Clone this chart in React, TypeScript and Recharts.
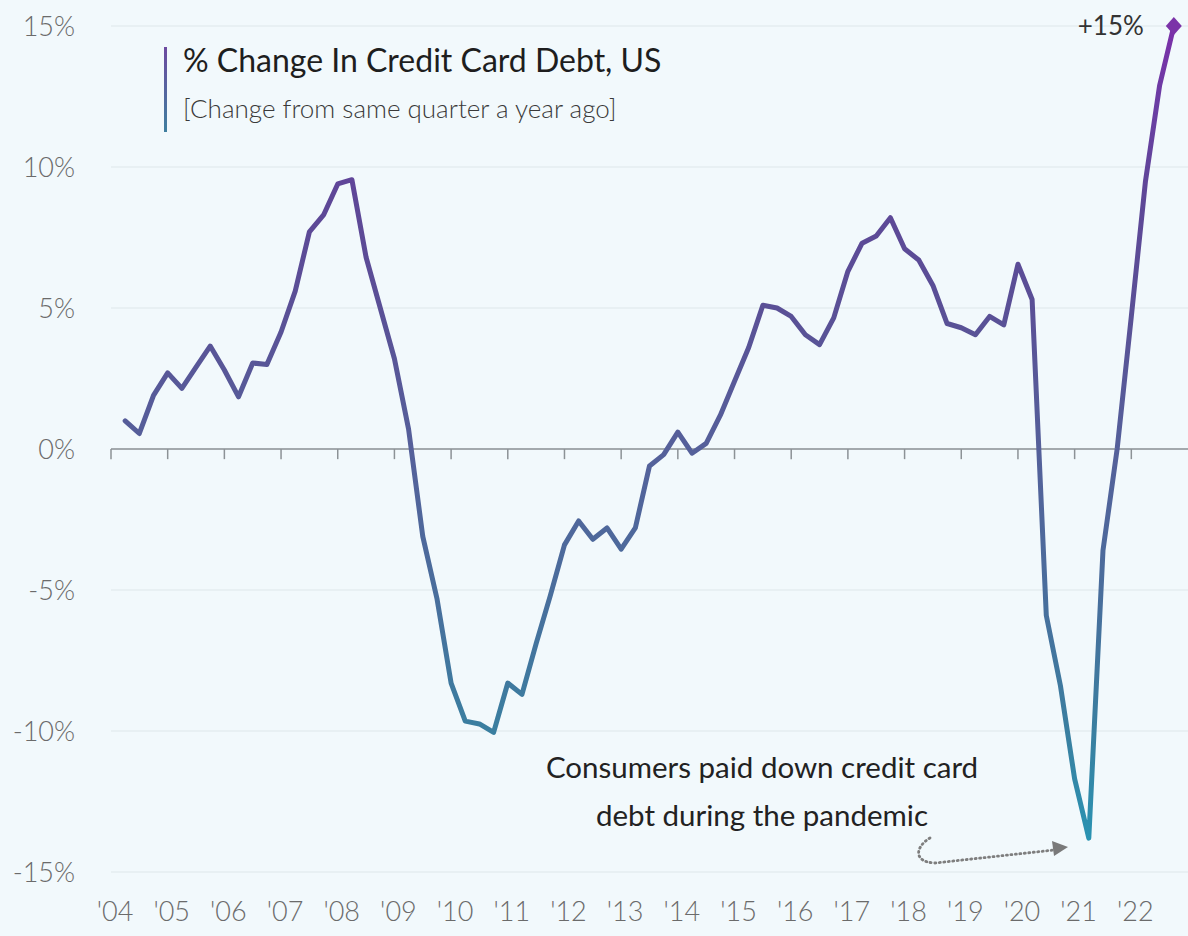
import React from "react";
import {
  CartesianGrid,
  Line,
  LineChart,
  ReferenceLine,
  XAxis,
  YAxis,
} from "recharts";

// quarterly year-over-year change, 2004 Q1 .. 2022 Q3
const startYear = 2004;
const debtChange = [
  1.0, 0.55, 1.9, 2.7,
  2.15, 2.9, 3.65, 2.8,
  1.85, 3.05, 3.0, 4.15,
  5.6, 7.7, 8.3, 9.4,
  9.55, 6.8, 5.0, 3.2,
  0.7, -3.1, -5.3, -8.3,
  -9.65, -9.75, -10.05, -8.3,
  -8.7, -6.9, -5.2, -3.4,
  -2.55, -3.2, -2.8, -3.55,
  -2.8, -0.6, -0.2, 0.6,
  -0.15, 0.2, 1.2, 2.4,
  3.6, 5.1, 5.0, 4.7,
  4.05, 3.7, 4.65, 6.3,
  7.3, 7.55, 8.2, 7.1,
  6.7, 5.8, 4.45, 4.3,
  4.05, 4.7, 4.4, 6.55,
  5.3, -5.9, -8.4, -11.7,
  -13.8, -3.6, 0.0, 4.7,
  9.5, 12.9, 15.0,
];
const yearTicks = [
  2004, 2005, 2006, 2007, 2008, 2009, 2010, 2011, 2012, 2013,
  2014, 2015, 2016, 2017, 2018, 2019, 2020, 2021, 2022,
];
const pctTicks = [-15, -10, -5, 0, 5, 10, 15];

const data = debtChange.map((v, i) => ({ t: startYear + (i + 1) / 4, v }));

const FONT = "Lato, 'Open Sans', sans-serif";
const BG = "#f2f9fc";

const EndMarker = (props: any) => {
  const { cx, cy, index } = props;
  if (index !== debtChange.length - 1) return <g key={index} />;
  return (
    <g key={index}>
      <path
        d={`M${cx},${cy - 9} L${cx + 8},${cy} L${cx},${cy + 9} L${cx - 8},${cy} Z`}
        fill="#7b33a8"
      />
      <text
        x={cx - 30}
        y={cy}
        dy="0.35em"
        textAnchor="end"
        fontSize={26}
        fontFamily={FONT}
        fill="#333"
      >
        +15%
      </text>
    </g>
  );
};

export default function App() {
  return (
    <div
      style={{
        position: "relative",
        width: 1188,
        height: 936,
        background: BG,
        fontFamily: FONT,
      }}
    >
      <style>{`body{margin:0}`}</style>
      <LineChart
        width={1188}
        height={936}
        data={data}
        margin={{ top: 26, right: 0, bottom: 34, left: 0 }}
      >
        <defs>
          <linearGradient id="lineGrad" x1="0" y1="0" x2="0" y2="1">
            <stop offset="0%" stopColor="#7b2fa9" />
            <stop offset="10%" stopColor="#6a3ea3" />
            <stop offset="21%" stopColor="#5e4797" />
            <stop offset="35%" stopColor="#5a5096" />
            <stop offset="52%" stopColor="#55609a" />
            <stop offset="69%" stopColor="#4a6d9c" />
            <stop offset="87%" stopColor="#3a7fa0" />
            <stop offset="100%" stopColor="#2a93b2" />
          </linearGradient>
        </defs>
        <CartesianGrid vertical={false} stroke="#e4edf1" strokeWidth={1.5} />
        <XAxis
          type="number"
          dataKey="t"
          domain={[2004, 2023]}
          ticks={yearTicks}
          tickFormatter={(y: number) => `'${String(y).slice(2)}`}
          axisLine={false}
          tickLine={false}
          tickSize={0}
          tickMargin={30}
          height={30}
          interval={0}
          tick={{ fill: "#6b6b6b", fontSize: 27, fontFamily: FONT, fontWeight: 300, dx: 4 }}
        />
        <YAxis
          domain={[-15, 15]}
          ticks={pctTicks}
          tickFormatter={(v: number) => `${v}%`}
          axisLine={false}
          tickLine={false}
          tickSize={0}
          tickMargin={36}
          width={111}
          tick={{ fill: "#6b6b6b", fontSize: 27, fontFamily: FONT, fontWeight: 300 }}
        />
        <ReferenceLine y={0} stroke="#8c9296" strokeWidth={1.5} />
        {yearTicks.map((yr) => (
          <ReferenceLine
            key={yr}
            segment={[
              { x: yr, y: 0 },
              { x: yr, y: -0.36 },
            ]}
            stroke="#8c9296"
            strokeWidth={1.5}
            ifOverflow="visible"
          />
        ))}
        <Line
          type="linear"
          dataKey="v"
          stroke="url(#lineGrad)"
          strokeWidth={5}
          strokeLinejoin="round"
          strokeLinecap="round"
          dot={EndMarker}
          activeDot={false}
          isAnimationActive={false}
        />
      </LineChart>

      {/* title block */}
      <div
        style={{
          position: "absolute",
          left: 164,
          top: 47,
          width: 3,
          height: 85,
          background: "linear-gradient(#6d4aa0, #3f7f9f)",
        }}
      />
      <div
        style={{
          position: "absolute",
          left: 183,
          top: 40,
          fontSize: 32,
          lineHeight: "40px",
          color: "#1e1e1e",
          whiteSpace: "nowrap",
        }}
      >
        % Change In Credit Card Debt, US
      </div>
      <div
        style={{
          position: "absolute",
          left: 183,
          top: 92,
          fontSize: 26,
          lineHeight: "32px",
          color: "#3a3a3a",
          fontWeight: 300,
          whiteSpace: "nowrap",
        }}
      >
        [Change from same quarter a year ago]
      </div>

      {/* annotation */}
      <div
        style={{
          position: "absolute",
          left: 462,
          top: 743,
          width: 600,
          textAlign: "center",
          fontSize: 29.5,
          lineHeight: "48px",
          color: "#222",
        }}
      >
        Consumers paid down credit card
        <br />
        debt during the pandemic
      </div>
      <svg
        style={{ position: "absolute", left: 0, top: 0 }}
        width={1188}
        height={936}
        pointerEvents="none"
      >
        <path
          d="M930,838 C916,846 912,862 935,863 L1054,850"
          fill="none"
          stroke="#7e7e7e"
          strokeWidth={2.8}
          strokeDasharray="1 3.5"
          strokeLinecap="round"
        />
        <path d="M1068,847 L1052,841 L1054,856 Z" fill="#7a7a7a" />
      </svg>
    </div>
  );
}
